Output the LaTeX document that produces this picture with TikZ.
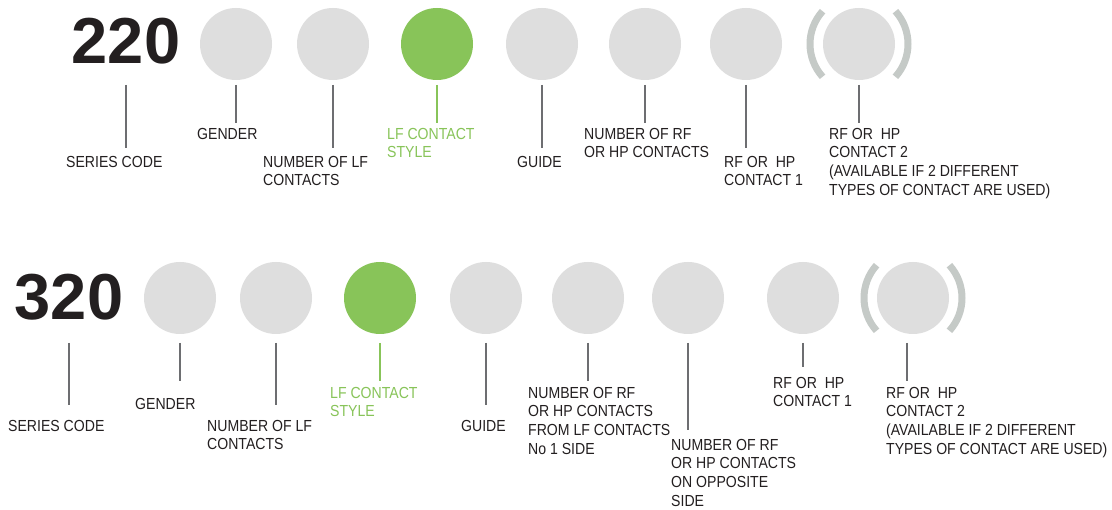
\documentclass[tikz,border=0pt]{standalone}
\usepackage{fontspec}
\setmainfont{Liberation Sans}
\newfontfamily\labelfont[FakeStretch=0.88]{Liberation Sans}
\usepackage{tikz}
\usetikzlibrary{positioning, calc}

\definecolor{dotgray}{HTML}{DEDEDE}
\definecolor{lfgreen}{HTML}{88C459}
\definecolor{brakgray}{HTML}{C5CAC7}
\definecolor{leadgray}{HTML}{6D6E71}
\definecolor{inkblack}{HTML}{231F20}

\newcommand{\codefont}{\fontsize{65}{65}\selectfont\bfseries}
\newcommand{\tagfont}{\labelfont\fontsize{16}{18.6}\selectfont}

\tikzset{
    dot/.style    = {circle, fill=dotgray, minimum size=72pt, inner sep=0pt},
    lfdot/.style  = {dot, fill=lfgreen},
    code/.style   = {inner sep=0pt, text=inkblack, font=\codefont},
    tag/.style    = {anchor=north west, inner sep=0pt, align=left, text=inkblack, font=\tagfont},
    lftag/.style  = {tag, text=lfgreen},
    lead/.style   = {draw=leadgray, line width=1.2pt},
    lflead/.style = {draw=lfgreen, line width=2.5pt},
    brak/.style   = {draw=brakgray, line width=7pt}
}

\begin{document}
\begin{tikzpicture}[x=1pt, y=-1pt]
        \useasboundingbox[fill=white] (0,0) rectangle (1112,510);

        % ROW 1: 220 series code and its positions
        \node (code1) [code] at (126,41) {220};
        \node (gen1) [dot] at (236,44) {};
        \node (lfn1) [dot] at (333,44) {};
        \node (lfs1) [lfdot] at (437,44) {};
        \node (gde1) [dot] at (542,44) {};
        \node (rfn1) [dot] at (645,44) {};
        \node (rfa1) [dot] at (746,44) {};
        \node (rfb1) [dot] at (859,44) {};

        % Optional second contact (brackets)
        \draw [brak] ([shift={(138:49pt)}]rfb1.center) arc [start angle=138, end angle=222, radius=49pt];
        \draw [brak] ([shift={(-42:49pt)}]rfb1.center) arc [start angle=-42, end angle=42, radius=49pt];

        % Lead levels
        \coordinate (top1) at (0,85);
        \coordinate (short1) at (0,123);
        \coordinate (long1) at (0,148);

        % Row 1 labels
        \node (sertag1) [tag] at (66,156) {SERIES CODE};
        \node (gentag1) [tag] at (197,128) {GENDER};
        \node (lfntag1) [tag] at (263,156) {NUMBER OF LF\\CONTACTS};
        \node (lfstag1) [lftag] at (387,128) {LF CONTACT\\STYLE};
        \node (gdetag1) [tag] at (517,156) {GUIDE};
        \node (rfntag1) [tag] at (584,128) {NUMBER OF RF\\OR HP CONTACTS};
        \node (rfatag1) [tag] at (724,156) {RF OR\ \ HP\\CONTACT 1};
        \node (rfbtag1) [tag] at (829,128) {RF OR\ \ HP\\CONTACT 2\\(AVAILABLE IF 2 DIFFERENT\\TYPES OF CONTACT ARE USED)};

        % Row 1 leads
        \draw [lead] (code1 |- top1) -- (code1 |- long1);
        \draw [lead] (gen1 |- top1) -- (gen1 |- short1);
        \draw [lead] (lfn1 |- top1) -- (lfn1 |- long1);
        \draw [lflead] (lfs1 |- top1) -- (lfs1 |- short1);
        \draw [lead] (gde1 |- top1) -- (gde1 |- long1);
        \draw [lead] (rfn1 |- top1) -- (rfn1 |- short1);
        \draw [lead] (rfa1 |- top1) -- (rfa1 |- long1);
        \draw [lead] (rfb1 |- top1) -- (rfb1 |- short1);

        % ROW 2: 320 series code and its positions
        \node (code2) [code] at (69,297) {320};
        \node (gen2) [dot] at (180,298) {};
        \node (lfn2) [dot] at (276,298) {};
        \node (lfs2) [lfdot] at (380,298) {};
        \node (gde2) [dot] at (486,298) {};
        \node (rfn2) [dot] at (588,298) {};
        \node (rfo2) [dot] at (688,298) {};
        \node (rfa2) [dot] at (803,298) {};
        \node (rfb2) [dot] at (913,298) {};

        % Optional second contact (brackets)
        \draw [brak] ([shift={(138:49pt)}]rfb2.center) arc [start angle=138, end angle=222, radius=49pt];
        \draw [brak] ([shift={(-42:49pt)}]rfb2.center) arc [start angle=-42, end angle=42, radius=49pt];

        % Lead levels
        \coordinate (top2) at (0,343);
        \coordinate (tiny2) at (0,367);
        \coordinate (short2) at (0,381);
        \coordinate (long2) at (0,405);
        \coordinate (deep2) at (0,430);

        % Row 2 labels
        \node (sertag2) [tag] at (8,420) {SERIES CODE};
        \node (gentag2) [tag] at (135,398) {GENDER};
        \node (lfntag2) [tag] at (207,420) {NUMBER OF LF\\CONTACTS};
        \node (lfstag2) [lftag] at (330,387) {LF CONTACT\\STYLE};
        \node (gdetag2) [tag] at (461,420) {GUIDE};
        \node (rfntag2) [tag] at (528,387) {NUMBER OF RF\\OR HP CONTACTS\\FROM LF CONTACTS\\No 1 SIDE};
        \node (rfotag2) [tag] at (671,439) {NUMBER OF RF\\OR HP CONTACTS\\ON OPPOSITE\\SIDE};
        \node (rfatag2) [tag] at (773,377) {RF OR\ \ HP\\CONTACT 1};
        \node (rfbtag2) [tag] at (886,387) {RF OR\ \ HP\\CONTACT 2\\(AVAILABLE IF 2 DIFFERENT\\TYPES OF CONTACT ARE USED)};

        % Row 2 leads
        \draw [lead] (code2 |- top2) -- (code2 |- long2);
        \draw [lead] (gen2 |- top2) -- (gen2 |- short2);
        \draw [lead] (lfn2 |- top2) -- (lfn2 |- long2);
        \draw [lflead] (lfs2 |- top2) -- (lfs2 |- short2);
        \draw [lead] (gde2 |- top2) -- (gde2 |- long2);
        \draw [lead] (rfn2 |- top2) -- (rfn2 |- short2);
        \draw [lead] (rfo2 |- top2) -- (rfo2 |- deep2);
        \draw [lead] (rfa2 |- top2) -- (rfa2 |- tiny2);
        \draw [lead] ([xshift=-6pt]rfb2 |- top2) -- ([xshift=-6pt]rfb2 |- short2);
    \end{tikzpicture}
\end{document}
